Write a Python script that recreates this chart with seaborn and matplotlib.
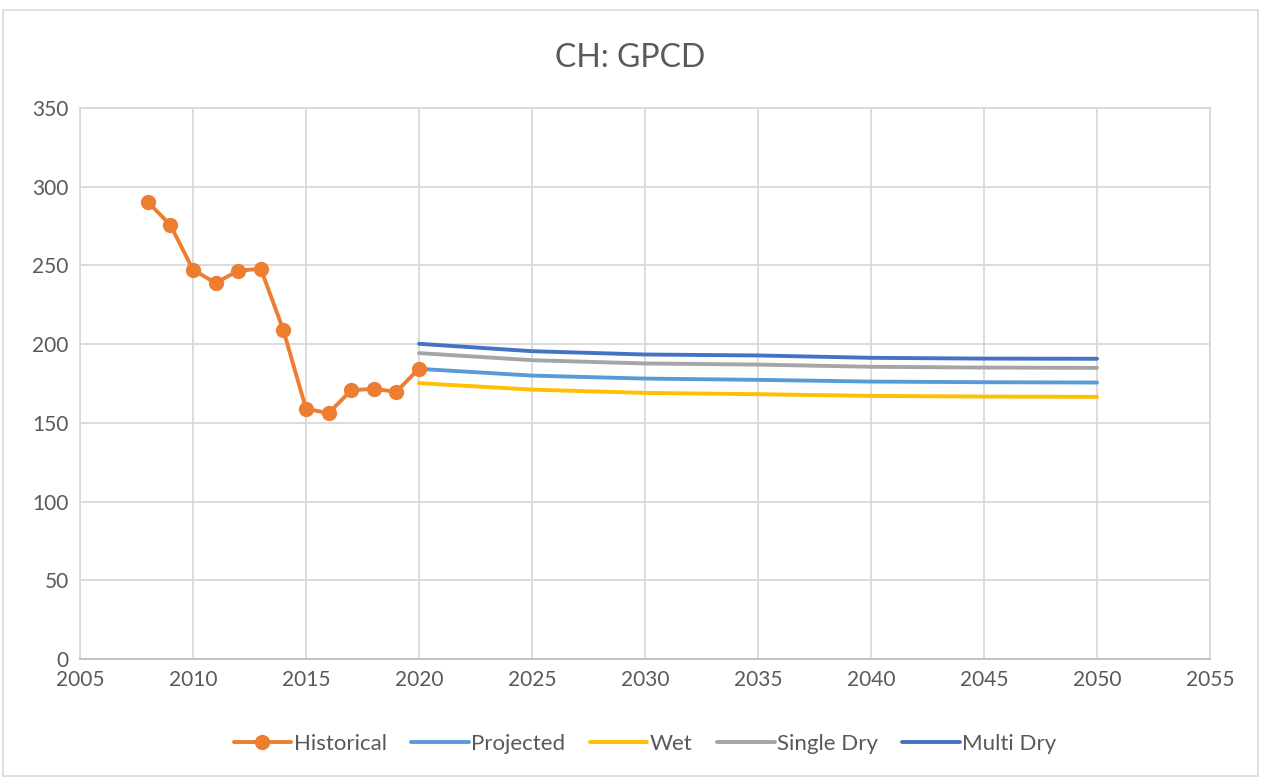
import pandas as pd
import matplotlib.pyplot as plt
import seaborn as sns

# historical GPCD readings
hist_years = list(range(2008, 2021))
hist_values = [290.3, 275.7, 247.3, 238.8, 246.6, 247.9, 208.9, 159.0, 156.1, 170.7, 171.6, 169.7, 184.5]

# projections, every 5 years
proj_years = [2020, 2025, 2030, 2035, 2040, 2045, 2050]
projected = [184.3, 180.0, 178.1, 177.3, 176.2, 175.8, 175.6]
wet = [175.2, 171.1, 169.0, 168.2, 167.1, 166.7, 166.5]
single_dry = [194.3, 189.8, 187.7, 187.0, 185.6, 185.1, 184.9]
multi_dry = [200.2, 195.5, 193.4, 192.8, 191.3, 190.8, 190.7]

series_colors = {
    "Historical": "#ED7D31",
    "Projected": "#5B9BD5",
    "Wet": "#FFC000",
    "Single Dry": "#A5A5A5",
    "Multi Dry": "#4472C4",
}


def main():
    sns.set_style("white")
    plt.rcParams['font.family'] = ['Lato', 'DejaVu Sans']

    fig = plt.figure(figsize=(12.61, 7.78), dpi=100)
    ax = fig.add_axes([0.0634, 0.153, 0.8962, 0.7082])

    hist_df = pd.DataFrame({"Year": hist_years, "GPCD": hist_values})
    sns.lineplot(data=hist_df, x="Year", y="GPCD", ax=ax, color=series_colors["Historical"],
                 linewidth=2.8, marker="o", markersize=11, markeredgewidth=0,
                 label="Historical", zorder=3)

    proj_df = pd.DataFrame({
        "Year": proj_years * 4,
        "GPCD": projected + wet + single_dry + multi_dry,
        "Scenario": ["Projected"] * 7 + ["Wet"] * 7 + ["Single Dry"] * 7 + ["Multi Dry"] * 7,
    })
    sns.lineplot(data=proj_df, x="Year", y="GPCD", hue="Scenario", ax=ax,
                 hue_order=["Projected", "Wet", "Single Dry", "Multi Dry"],
                 palette=series_colors, linewidth=2.8, zorder=2)

    ax.set_xlim(2005, 2055)
    ax.set_ylim(0, 350)
    ax.set_xticks(range(2005, 2056, 5))
    ax.set_yticks(range(0, 351, 50))
    ax.grid(True, color="#D9D9D9", linewidth=1.3)
    ax.set_axisbelow(True)
    for name, sp in ax.spines.items():
        sp.set_color("#D9D9D9")
        sp.set_linewidth(1.3)
    ax.spines["bottom"].set_color("#BFBFBF")
    ax.tick_params(axis="both", length=0, labelsize=15, labelcolor="#595959", pad=8)
    ax.set_xlabel("")
    ax.set_ylabel("")

    fig.suptitle("CH: GPCD", fontsize=23, color="#595959", y=0.945)

    handles, labels = ax.get_legend_handles_labels()
    ax.legend(handles, labels, loc="upper center", bbox_to_anchor=(0.5, -0.1), ncol=5,
              frameon=False, fontsize=16, labelcolor="#595959", handlelength=2.6,
              handletextpad=0.1, columnspacing=1.1)

    border = plt.Rectangle((0.002, 0.002), 0.996, 0.985, transform=fig.transFigure,
                           fill=False, edgecolor="#D9D9D9", linewidth=1.2)
    fig.patches.append(border)

    fig.savefig("out.png", dpi=100)
    plt.close(fig)


if __name__ == "__main__":
    main()
